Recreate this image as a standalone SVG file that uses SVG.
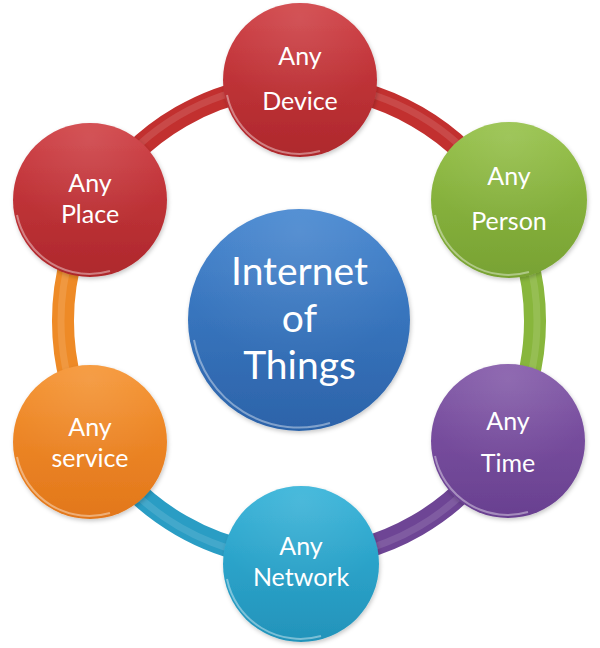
<svg xmlns="http://www.w3.org/2000/svg" width="600" height="648" viewBox="0 0 600 648">
<defs>
  <linearGradient id="gRed" x1="0" y1="0" x2="0" y2="1"><stop offset="0" stop-color="#CF3D42"/><stop offset="1" stop-color="#AE282C"/></linearGradient>
  <linearGradient id="gGreen" x1="0" y1="0" x2="0" y2="1"><stop offset="0" stop-color="#94C046"/><stop offset="1" stop-color="#78A233"/></linearGradient>
  <linearGradient id="gPurple" x1="0" y1="0" x2="0" y2="1"><stop offset="0" stop-color="#8258A8"/><stop offset="1" stop-color="#694090"/></linearGradient>
  <linearGradient id="gTeal" x1="0" y1="0" x2="0" y2="1"><stop offset="0" stop-color="#33B2D8"/><stop offset="1" stop-color="#2393BA"/></linearGradient>
  <linearGradient id="gOrange" x1="0" y1="0" x2="0" y2="1"><stop offset="0" stop-color="#F5922F"/><stop offset="1" stop-color="#E2771B"/></linearGradient>
  <linearGradient id="gBlue" x1="0" y1="0" x2="0" y2="1"><stop offset="0" stop-color="#4284CF"/><stop offset="1" stop-color="#2C63A9"/></linearGradient>
  <radialGradient id="gloss" cx="0.5" cy="0.1" r="0.6"><stop offset="0" stop-color="#fff" stop-opacity="0.12"/><stop offset="1" stop-color="#fff" stop-opacity="0"/></radialGradient>
  <filter id="sh" x="-20%" y="-20%" width="140%" height="140%"><feDropShadow dx="1" dy="2" stdDeviation="2" flood-color="#000" flood-opacity="0.22"/></filter>
</defs>
<style>
  .band{fill:none;stroke-width:22;stroke-linecap:butt}
  .hl{fill:none;stroke-width:7;stroke:#fff;stroke-opacity:0.12}
  .node circle.b{filter:url(#sh)}
  .rim{fill:none;stroke:#fff;stroke-opacity:0.4;stroke-width:2}
  .gl{fill:url(#gloss)}
  text{font-family:Lato,"Liberation Sans",sans-serif;fill:#fff;text-anchor:middle}
  .s{font-size:25px}
  .c{font-size:39px}
</style>
<g id="connectors">
  <path class="band" stroke="#C2302F" d="M 299 85 A 236 236 0 0 1 503.4 203"/>
  <path class="band" stroke="#88B63C" d="M 503.4 203 A 236 236 0 0 1 503.4 439"/>
  <path class="band" stroke="#6E4595" d="M 503.4 439 A 236 236 0 0 1 299 557"/>
  <path class="band" stroke="#2A9DC4" d="M 299 557 A 236 236 0 0 1 94.6 439"/>
  <path class="band" stroke="#EE8A26" d="M 94.6 439 A 236 236 0 0 1 94.6 203"/>
  <path class="band" stroke="#C2302F" d="M 94.6 203 A 236 236 0 0 1 299 85"/>
  <circle class="hl" cx="299" cy="321" r="238"/>
</g>
<g id="center" class="node">
  <circle class="b" cx="299" cy="320" r="111" fill="url(#gBlue)"/>
  <circle class="gl" cx="299" cy="320" r="111"/>
  <path class="rim" d="M 194 340 A 107 107 0 0 0 330 423"/>
  <text class="c" x="299.5" y="285">Internet</text>
  <text class="c" x="299.5" y="332">of</text>
  <text class="c" x="299.5" y="379">Things</text>
</g>
<g id="device" class="node">
  <circle class="b" cx="300" cy="80" r="77" fill="url(#gRed)"/>
  <circle class="gl" cx="300" cy="80" r="77"/>
  <path class="rim" d="M 227 95 A 74 74 0 0 0 320 151"/>
  <text class="s" x="300" y="65">Any</text>
  <text class="s" x="300" y="110">Device</text>
</g>
<g id="person" class="node">
  <circle class="b" cx="509" cy="200" r="78" fill="url(#gGreen)"/>
  <circle class="gl" cx="509" cy="200" r="78"/>
  <path class="rim" d="M 435 215 A 75 75 0 0 0 529 272"/>
  <text class="s" x="509" y="185">Any</text>
  <text class="s" x="509" y="230">Person</text>
</g>
<g id="time" class="node">
  <circle class="b" cx="508" cy="441" r="77" fill="url(#gPurple)"/>
  <circle class="gl" cx="508" cy="441" r="77"/>
  <path class="rim" d="M 435 456 A 74 74 0 0 0 528 512"/>
  <text class="s" x="508" y="430">Any</text>
  <text class="s" x="508" y="472">Time</text>
</g>
<g id="network" class="node">
  <circle class="b" cx="301" cy="564" r="78" fill="url(#gTeal)"/>
  <circle class="gl" cx="301" cy="564" r="78"/>
  <path class="rim" d="M 227 579 A 75 75 0 0 0 321 636"/>
  <text class="s" x="301" y="555">Any</text>
  <text class="s" x="301" y="586">Network</text>
</g>
<g id="service" class="node">
  <circle class="b" cx="90" cy="442" r="77" fill="url(#gOrange)"/>
  <circle class="gl" cx="90" cy="442" r="77"/>
  <path class="rim" d="M 17 457 A 74 74 0 0 0 110 513"/>
  <text class="s" x="90" y="436">Any</text>
  <text class="s" x="90" y="467">service</text>
</g>
<g id="place" class="node">
  <circle class="b" cx="90" cy="200" r="77" fill="url(#gRed)"/>
  <circle class="gl" cx="90" cy="200" r="77"/>
  <path class="rim" d="M 17 215 A 74 74 0 0 0 110 271"/>
  <text class="s" x="90" y="192">Any</text>
  <text class="s" x="90" y="223">Place</text>
</g>
</svg>
